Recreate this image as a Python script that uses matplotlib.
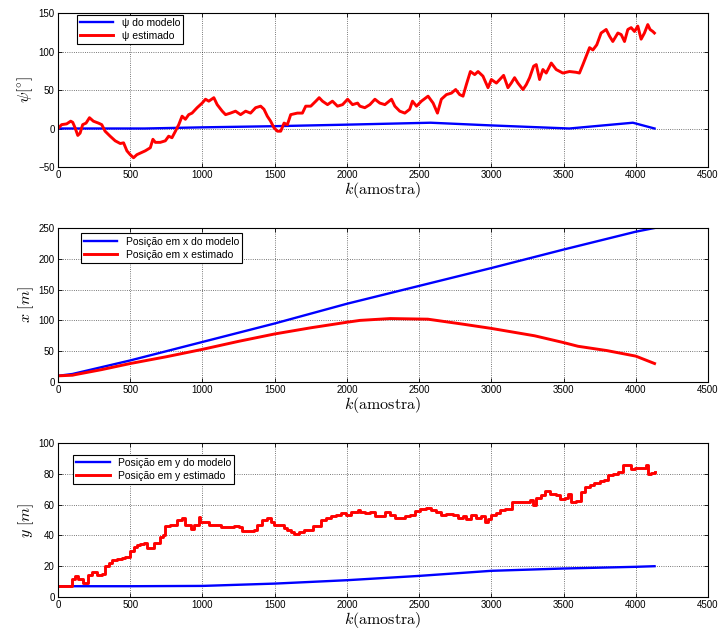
import numpy as np
import matplotlib
matplotlib.use('Agg')
import matplotlib.pyplot as plt

plt.rcParams['font.family'] = ['Liberation Sans', 'DejaVu Sans']
plt.rcParams['mathtext.fontset'] = 'cm'

# psi (graus)
k_psi_mod = [0, 600, 1000, 1500, 2000, 2580, 3000, 3540, 3980, 4130]
psi_mod = [0, 0, 1.5, 3, 5, 7.5, 4, 0, 7.5, 0]

k_psi_est = [0, 25, 60, 88, 102, 118, 137, 153, 171, 194, 218, 245, 280, 303, 326,
             361, 396, 431, 454, 477, 500, 523, 546, 569, 604, 639, 657, 674, 708,
             743, 766, 789, 813, 836, 859, 882, 905, 928, 963, 998, 1021, 1044, 1079,
             1102, 1137, 1160, 1194, 1229, 1264, 1299, 1333, 1368, 1403, 1426, 1449,
             1472, 1495, 1519, 1542, 1565, 1588, 1611, 1657, 1692, 1715, 1750, 1785,
             1808, 1831, 1866, 1900, 1935, 1970, 2005, 2039, 2074, 2090, 2124, 2159,
             2194, 2228, 2263, 2309, 2332, 2366, 2401, 2435, 2454, 2482, 2516, 2562,
             2597, 2627, 2654, 2689, 2724, 2753, 2781, 2804, 2827, 2855, 2885, 2908,
             2942, 2977, 3000, 3035, 3058, 3085, 3115, 3138, 3161, 3184, 3219, 3242,
             3265, 3293, 3311, 3334, 3357, 3380, 3415, 3449, 3495, 3541, 3587, 3610,
             3634, 3657, 3680, 3703, 3730, 3760, 3795, 3818, 3841, 3876, 3899, 3922,
             3945, 3968, 3991, 4014, 4037, 4060, 4083, 4099, 4118, 4129]
psi_est = [0, 5, 6, 9.5, 8, 1, -9, -6, 5, 7, 14, 9.5, 7, 5, -3.5,
           -10, -16, -19.5, -18.6, -29, -34, -38, -34, -32, -29, -25, -14, -18, -18,
           -16, -10, -12, -3.5, 5, 16, 12, 18, 20, 27, 33, 38, 35.5, 40,
           31, 22.5, 18, 20, 22.5, 18, 22.5, 20, 27, 29, 25, 16,
           9.5, 1, -3.5, -3.5, 7, 5, 18, 20, 20, 29, 29, 35.5,
           40, 35.5, 31, 35.5, 29, 31, 38, 31, 33, 29, 27, 31,
           38, 33, 31, 38, 29, 22.5, 20, 25, 35.5, 29, 35.5, 42,
           33, 20, 38, 44, 46, 50.6, 44, 42, 57, 74, 70, 74,
           68, 53, 63.6, 59, 63.6, 69, 53, 59, 66, 59, 50.6, 57,
           66, 81, 83, 63.6, 76.6, 72, 85, 76.6, 72, 74, 73, 72,
           83, 94, 105, 102, 108.7, 124, 128.6, 120, 113, 124, 122, 113,
           128.6, 131, 126, 133, 116, 124, 135, 128.6, 126, 124]

# posicao x (m)
k_x_mod = [0, 100, 500, 1000, 1500, 2000, 2500, 3000, 3500, 4000, 4130]
x_mod = [10, 13, 35, 65, 95, 127, 156, 185, 215, 244, 250]
k_x_est = [0, 100, 120, 300, 500, 750, 1000, 1250, 1500, 1750, 2000, 2090, 2300,
           2560, 2800, 3000, 3300, 3500, 3600, 3800, 4000, 4130]
x_est = [10, 11, 12, 20, 30, 41, 53, 66, 78, 88, 97, 100, 103,
         102, 94, 87, 75, 64, 58, 51, 42, 30]

# posicao y (m)
k_y_mod = [0, 500, 1000, 1500, 2000, 2500, 3000, 3500, 4000, 4130]
y_mod = [7, 7, 7.2, 8.7, 10.9, 13.7, 17, 18.5, 19.6, 20]
k_y_est = [0, 83, 95, 118, 141, 164, 176, 199, 211, 234, 269, 303, 326, 350, 373,
           407, 442, 465, 500, 523, 546, 569, 593, 616, 650, 662, 685, 704, 727,
           743, 778, 801, 824, 859, 882, 905, 921, 940, 975, 986, 1021, 1044, 1079,
           1125, 1171, 1218, 1252, 1275, 1322, 1356, 1380, 1414, 1449, 1472, 1495,
           1530, 1565, 1588, 1611, 1634, 1669, 1704, 1738, 1762, 1796, 1819, 1854,
           1889, 1924, 1958, 1993, 2028, 2074, 2090, 2124, 2159, 2194, 2228, 2263,
           2297, 2332, 2366, 2401, 2435, 2470, 2505, 2551, 2585, 2620, 2654, 2689,
           2735, 2770, 2804, 2827, 2862, 2896, 2931, 2954, 2977, 3000, 3035, 3058,
           3092, 3115, 3145, 3173, 3207, 3242, 3265, 3288, 3311, 3346, 3369, 3403,
           3449, 3472, 3507, 3530, 3553, 3587, 3610, 3622, 3645, 3680, 3714, 3749,
           3783, 3806, 3841, 3876, 3910, 3945, 3968, 3998, 4037, 4072, 4083, 4106,
           4130]
y_est = [7, 7, 12, 13.5, 12, 12, 9, 9, 14, 16, 14.5, 15, 20, 22, 24,
         25, 25.5, 26, 30, 32.5, 34, 34.5, 35, 31.5, 31.5, 35, 35, 39, 40,
         46, 46.5, 47, 50, 51, 47, 47, 44, 47, 52, 48.5, 49, 47, 46.5,
         45.5, 45.5, 46, 45.5, 43, 43, 43.5, 47, 50, 51, 49, 47,
         46.5, 45, 43.5, 42.5, 41, 42, 43.5, 43.5, 46, 46, 50, 51.5,
         52.5, 53, 54.5, 53.5, 55, 56.5, 55, 54.5, 55, 52.5, 52.5, 55,
         53, 51.5, 51, 52.5, 53.5, 56, 57, 57.5, 56.5, 55, 53, 54,
         53.5, 51.5, 52.5, 50.5, 53, 51.5, 52.5, 48.5, 50.5, 53.5, 54.5, 56.5,
         57, 57, 62, 61.5, 62, 61.5, 63, 60, 64, 66, 69, 67,
         66.5, 63.5, 64, 67, 61.5, 62.5, 62.5, 68, 71.5, 73, 74, 75.5,
         76, 79, 80, 81, 86, 86, 83, 84, 83.5, 86, 80, 80.5,
         81]

fig = plt.figure(figsize=(7.21, 6.32), dpi=100)
left, width, height = 58/721, 650/721, 154/632
bottoms = [1-167/632, 1-382/632, 1-597/632]

paineis = [
    (k_psi_mod, psi_mod, k_psi_est, psi_est, r'$\psi[^{\circ}]$',
     u'\u03c8 do modelo', u'\u03c8 estimado', (-50, 150), 50, (0.029, 0.99), 'default'),
    (k_x_mod, x_mod, k_x_est, x_est, r'$x\ [m]$',
     u'Posição em x do modelo', u'Posição em x estimado', (0, 250), 50, (0.035, 0.965), 'default'),
    (k_y_mod, y_mod, k_y_est, y_est, r'$y\ [m]$',
     u'Posição em y do modelo', u'Posição em y estimado', (0, 100), 20, (0.0235, 0.925), 'steps-post'),
]

for b, p in zip(bottoms, paineis):
    kmod, vmod, kest, vest, ylab, lab1, lab2, ylim, ystep, legpos, ds = p
    ax = fig.add_axes([left, b, width, height])
    ax.plot(kmod, vmod, color='b', lw=1.7, label=lab1)
    ax.plot(kest, vest, color='r', lw=2.1, label=lab2, drawstyle=ds)
    ax.set_xlim(0, 4500)
    ax.set_ylim(*ylim)
    ax.set_xticks(np.arange(0, 4501, 500))
    ax.set_yticks(np.arange(ylim[0], ylim[1]+1, ystep))
    ax.grid(True, color='k', linestyle=':', linewidth=0.6, alpha=0.7)
    ax.tick_params(direction='in', top=True, right=True, labelsize=7, length=3, width=0.6, pad=2.5)
    for s in ax.spines.values():
        s.set_linewidth(0.8)
    ax.set_xlabel(r'$k(\mathrm{amostra})$', fontsize=11.5, labelpad=0)
    ax.set_ylabel(ylab, fontsize=11.5, labelpad=2)
    leg = ax.legend(loc='upper left', bbox_to_anchor=legpos, fontsize=7.5, fancybox=False,
                    edgecolor='k', framealpha=1, handlelength=3.2, borderaxespad=0,
                    labelspacing=0.3, borderpad=0.3)
    leg.get_frame().set_linewidth(0.8)

fig.savefig('out.png', dpi=100)
